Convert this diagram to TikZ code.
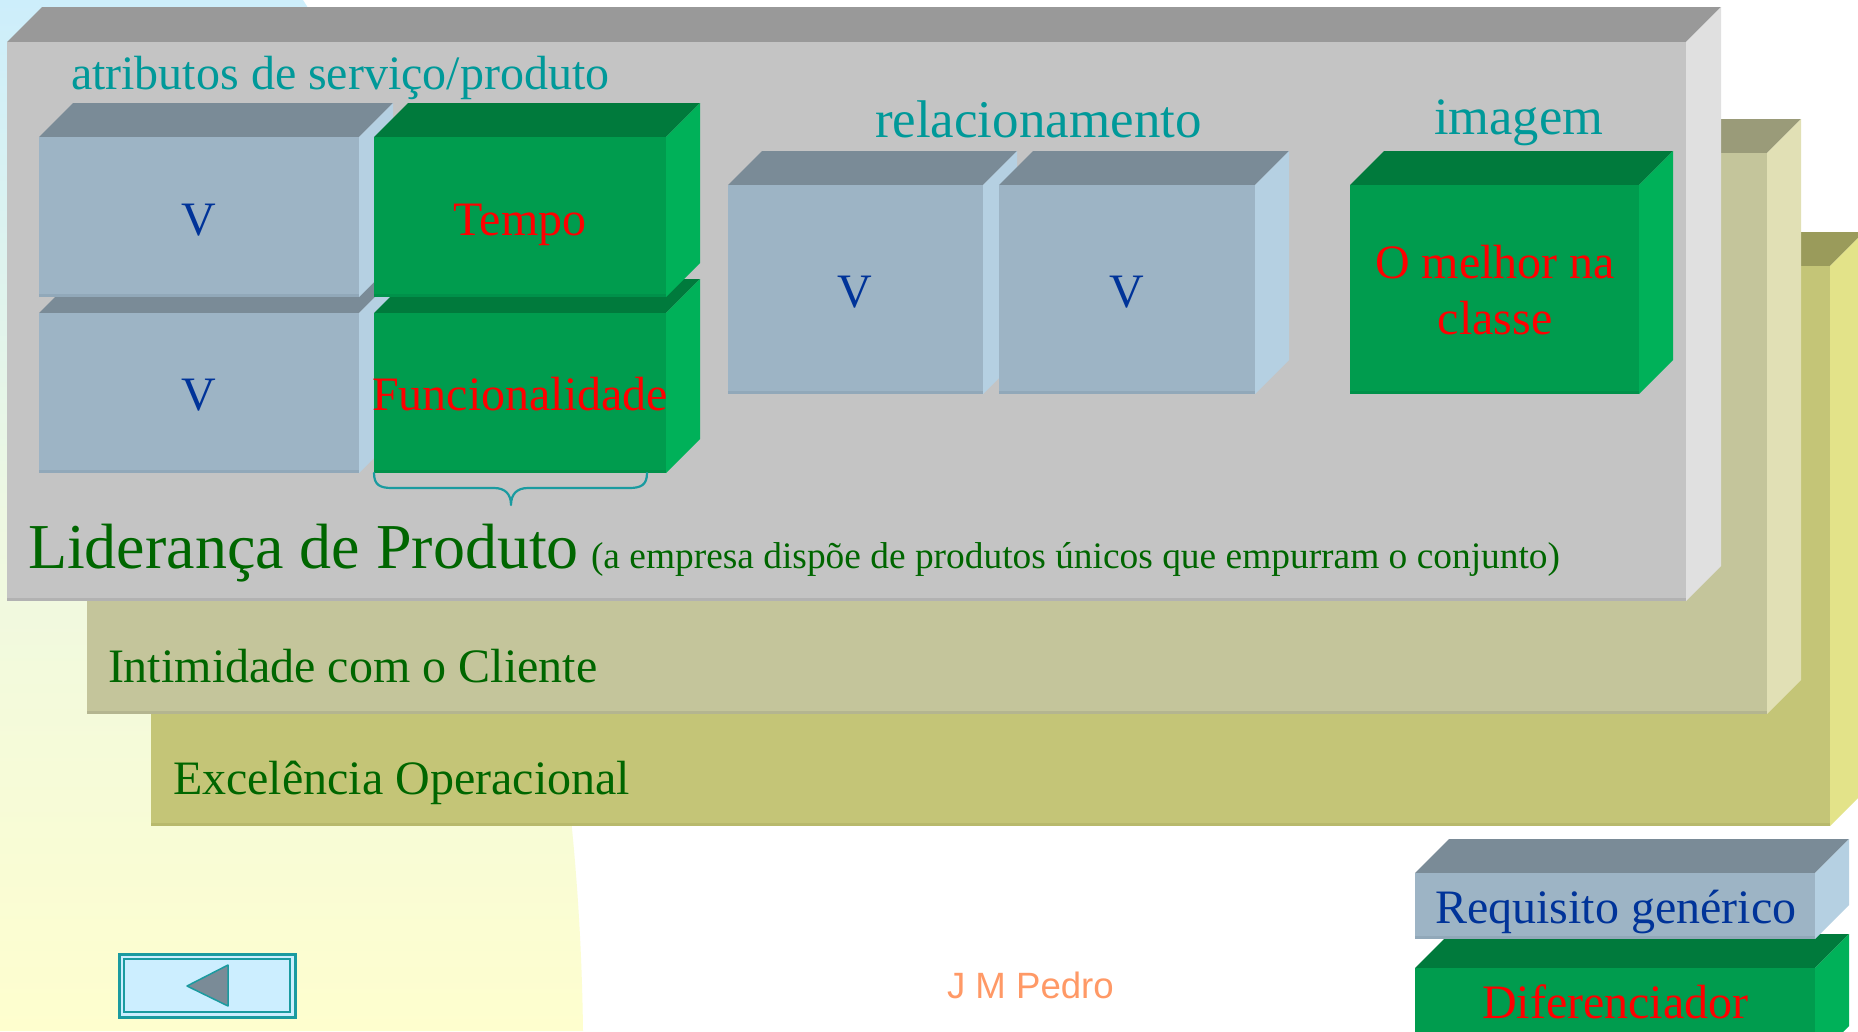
\documentclass[tikz,border=0pt]{standalone}
\usepackage{fontspec}
\setmainfont{Liberation Serif}
\newfontfamily\arialfont{Liberation Sans}
\definecolor{grfront}{HTML}{C4C4C4}
\definecolor{grtop}{HTML}{999999}
\definecolor{grright}{HTML}{E0E0E0}
\definecolor{gredge}{HTML}{B2B2B2}
\definecolor{olfront}{HTML}{C4C59B}
\definecolor{oltop}{HTML}{9A9B79}
\definecolor{olright}{HTML}{E1E0B5}
\definecolor{oledge}{HTML}{B4B590}
\definecolor{yefront}{HTML}{C4C577}
\definecolor{yetop}{HTML}{9A9B5B}
\definecolor{yeright}{HTML}{E3E389}
\definecolor{yeedge}{HTML}{B8B96C}
\definecolor{blfront}{HTML}{9DB4C5}
\definecolor{bltop}{HTML}{7A8B97}
\definecolor{blright}{HTML}{B5D0E2}
\definecolor{bledge}{HTML}{91A8B9}
\definecolor{gnfront}{HTML}{009C4E}
\definecolor{gntop}{HTML}{007A3C}
\definecolor{gnright}{HTML}{00B159}
\definecolor{gnedge}{HTML}{00914A}
\definecolor{tealtxt}{HTML}{009999}
\definecolor{tealline}{HTML}{1A9BA0}
\definecolor{dkgreen}{HTML}{006600}
\definecolor{dkblue}{HTML}{003399}
\definecolor{orangetxt}{HTML}{FF9966}
\definecolor{bgblue}{HTML}{CDEEFB}
\definecolor{bgmid}{HTML}{EEF8E2}
\definecolor{bgyellow}{HTML}{FEFECE}
\definecolor{btnfill}{HTML}{CCEEFF}
\definecolor{btnarrow}{HTML}{7A8B97}
% 3D block: x1 y1 x2 y2 depth colour-prefix
\newcommand{\blockthree}[6]{%
  \fill[#6top] (#1,#2) -- ({#1+#5},{#2-#5}) -- ({#3+#5},{#2-#5}) -- (#3,#2) -- cycle;
  \fill[#6right] (#3,#2) -- ({#3+#5},{#2-#5}) -- ({#3+#5},{#4-#5}) -- (#3,#4) -- cycle;
  \fill[#6front] (#1,#2) rectangle (#3,#4);
  \fill[#6edge] (#1,{#4-3}) rectangle (#3,#4);
}
\tikzset{
  txt/.style={inner sep=0pt, outer sep=0pt},
  head/.style={txt, text=tealtxt},
  vlabel/.style={txt, text=dkblue, anchor=base, font=\fontsize{48}{57}\selectfont},
  redlabel/.style={txt, text=red, anchor=base, font=\fontsize{48}{57}\selectfont},
  layerlabel/.style={txt, text=dkgreen, anchor=base west},
}
\begin{document}
\begin{tikzpicture}[x=1pt,y=-1pt]
\useasboundingbox (0,0) rectangle (1858,1031);
\clip (0,0) rectangle (1858,1031);
% background
\fill[white] (0,0) rectangle (1858,1031);
\shade[top color=bgblue, bottom color=bgyellow, middle color=bgmid]
  (0,0) -- (303,0) .. controls (470,260) and (578,620) .. (583,1031) -- (0,1031) -- cycle;
% layers
\blockthree{151}{266}{1830}{826}{34}{ye}
\blockthree{87}{153}{1767}{714}{34}{ol}
\blockthree{7}{42}{1686}{601}{35}{gr}
% service attribute boxes
\blockthree{39}{313}{359}{473}{34}{bl}
\blockthree{39}{137}{359}{297}{34}{bl}
\blockthree{374}{313}{666}{473}{34}{gn}
\blockthree{374}{137}{666}{297}{34}{gn}
% relacionamento boxes
\blockthree{728}{185}{983}{394}{34}{bl}
\blockthree{999}{185}{1255}{394}{34}{bl}
% imagem box
\blockthree{1350}{185}{1639}{394}{34}{gn}
% legend boxes
\blockthree{1415}{968}{1815}{1060}{34}{gn}
\blockthree{1415}{873}{1815}{939}{34}{bl}
% headings
\node[head, anchor=base west, font=\fontsize{48}{57}\selectfont] (hattr) at (71,89) {atributos de serviço/produto};
\node[head, anchor=base west, font=\fontsize{53}{62}\selectfont] (hrel) at (875,137) {relacionamento};
\node[head, anchor=base west, font=\fontsize{52.5}{62}\selectfont] (himg) at (1434,134) {imagem};
% box labels
\node[vlabel] (v1) at (199,235) {V};
\node[vlabel] (v2) at (199,410) {V};
\node[redlabel] (tempo) at (520,235) {Tempo};
\node[redlabel] (func) at (520,410) {Funcionalidade};
\node[vlabel] (v3) at (855,307) {V};
\node[vlabel] (v4) at (1127,307) {V};
\node[redlabel] (best1) at (1495,278) {O melhor na};
\node[redlabel] (best2) at (1495,334) {classe};
% brace
\draw[tealline, line width=2.2pt, line cap=round, line join=round]
  (374,473) .. controls (374,485) and (380,488) .. (392,488) -- (494,488)
  .. controls (505,488) and (511,494) .. (511,505)
  .. controls (511,494) and (517,488) .. (528,488) -- (629,488)
  .. controls (641,488) and (647,485) .. (647,473);
% layer labels
\node[layerlabel, font=\fontsize{64}{76}\selectfont] (lid) at (28,568) {Liderança de Produto};
\node[layerlabel, font=\fontsize{37.4}{45}\selectfont] (lidsub) at (591,568) {(a empresa dispõe de produtos únicos que empurram o conjunto)};
\node[layerlabel, font=\fontsize{48}{57}\selectfont] (intim) at (108,682) {Intimidade com o Cliente};
\node[layerlabel, font=\fontsize{48}{57}\selectfont] (excel) at (173,794) {Excelência Operacional};
% legend labels
\node[txt, text=dkblue, anchor=base west, font=\fontsize{48}{57}\selectfont] (req) at (1435,923) {Requisito genérico};
\node[txt, text=red, anchor=base west, font=\fontsize{48}{57}\selectfont] (dif) at (1482,1018) {Diferenciador};
% author
\node[txt, text=orangetxt, anchor=base west, font=\arialfont\fontsize{36.6}{44}\selectfont] (author) at (947,998) {J M Pedro};
% back button
\fill[btnfill] (119,954) rectangle (295,1017);
\draw[tealline, line width=3pt] (119,954) rectangle (295,1017);
\draw[tealline, line width=1.5pt] (124,959) rectangle (290,1012);
\filldraw[fill=btnarrow, draw=tealline, line width=1.5pt, line join=round] (187,986) -- (228,965) -- (228,1006) -- cycle;
\end{tikzpicture}
\end{document}
